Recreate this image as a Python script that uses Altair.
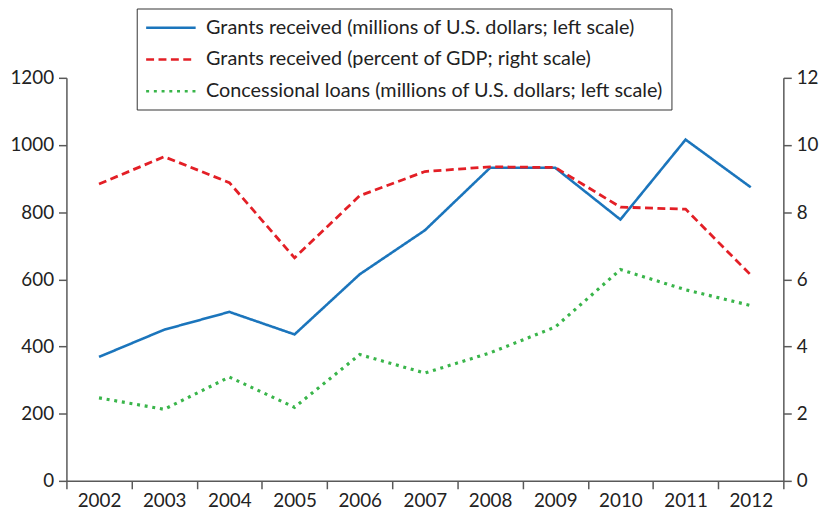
import altair as alt
import pandas as pd

years = [str(y) for y in range(2002, 2013)]
grants_usd = [369, 450, 503, 436, 615, 746, 932, 932, 778, 1016, 874]
grants_gdp = [8.84, 9.65, 8.88, 6.64, 8.49, 9.21, 9.35, 9.33, 8.15, 8.09, 6.13]
loans_usd = [247, 213, 309, 219, 376, 321, 381, 458, 629, 569, 522]

s1 = "Grants received (millions of U.S. dollars; left scale)"
s2 = "Grants received (percent of GDP; right scale)"
s3 = "Concessional loans (millions of U.S. dollars; left scale)"
series = [s1, s2, s3]
colors = ["#1b75bc", "#e31f26", "#39b54a"]
dashes = [[1, 0], [8, 4.5], [3, 4.8]]

left_ticks = [0, 200, 400, 600, 800, 1000, 1200]
right_ticks = [0, 2, 4, 6, 8, 10, 12]

blue_df = pd.DataFrame({"year": years, "value": grants_usd, "series": [s1] * len(years)})
green_df = pd.DataFrame({"year": years, "value": loans_usd, "series": [s3] * len(years)})
red_df = pd.DataFrame({"year": years, "value": grants_gdp, "series": [s2] * len(years)})

x_enc = alt.X(
    "year:O",
    scale=alt.Scale(type="band", paddingInner=0, paddingOuter=0),
    bandPosition=0.5,
    axis=alt.Axis(title=None, labelAngle=0, tickBand="extent", labelPadding=3),
)
color_enc = alt.Color(
    "series:N",
    scale=alt.Scale(domain=series, range=colors),
    sort=series,
    legend=alt.Legend(
        title=None, orient="none", legendX=71, legendY=-70,
        symbolType="M-1,0H4", symbolSize=400, symbolStrokeWidth=2.6,
        labelFontSize=20, labelLimit=1000, labelOffset=39,
        padding=8, rowPadding=10, strokeColor="#333333", fillColor="white",
        labelFont="Lato", labelColor="#222222",
    ),
)
dash_enc = alt.StrokeDash(
    "series:N",
    scale=alt.Scale(domain=series, range=dashes),
    sort=series,
    legend=None,
)
y_left = alt.Y("value:Q", scale=alt.Scale(domain=[0, 1200], nice=False),
               axis=alt.Axis(title=None, values=left_ticks, format="d",
                             orient="left", grid=False))
y_right = alt.Y("value:Q", scale=alt.Scale(domain=[0, 12], nice=False),
                axis=alt.Axis(title=None, values=right_ticks, format="d",
                              orient="right", grid=False))

blue = alt.Chart(blue_df).mark_line(strokeWidth=2.6).encode(
    x=x_enc, y=y_left, color=color_enc, strokeDash=dash_enc)
green = alt.Chart(green_df).mark_line(strokeWidth=3.2).encode(
    x=x_enc, y=y_left, color=color_enc, strokeDash=dash_enc)
red = alt.Chart(red_df).mark_line(strokeWidth=2.8).encode(
    x=x_enc, y=y_right, color=color_enc, strokeDash=dash_enc)

chart = alt.layer(alt.layer(blue, green), red).resolve_scale(
    y="independent"
).properties(
    width=724, height=407,
    autosize=alt.AutoSizeParams(type="none"),
    padding={"left": 59, "top": 68, "right": 36, "bottom": 35},
).configure_view(stroke=None).configure_axis(
    domainColor="#595959", domainWidth=1.5, tickColor="#595959", tickWidth=1.5,
    tickSize=8, labelFont="Lato", labelFontSize=19, labelColor="#222222",
    labelPadding=5,
)

chart.save("out.html", embed_options={"renderer": "svg", "actions": False})
